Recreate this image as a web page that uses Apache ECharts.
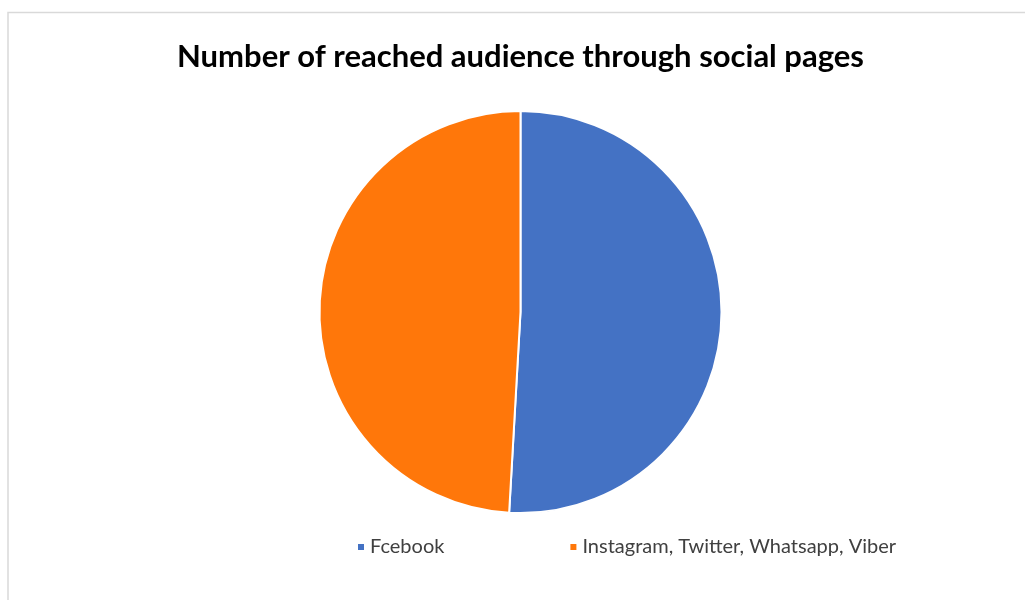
<!DOCTYPE html>
<html>
<head>
<meta charset="utf-8">
<script src="https://cdn.jsdelivr.net/npm/echarts@6/dist/echarts.min.js"></script>
<style>html,body{margin:0;padding:0;background:#fff;}#chart{width:1025px;height:600px;}</style>
</head>
<body>
<div id="chart"></div>
<script>
const titleText = "Number of reached audience through social pages";
const categories = ["Fcebook", "Instagram, Twitter, Whatsapp, Viber"];
const values = [50.9, 49.1];
const colors = ["#4472C4", "#FF770A"];

const chart = echarts.init(document.getElementById('chart'));
chart.setOption({
  animation: false,
  color: colors,
  graphic: [{
    type: 'rect', silent: true,
    shape: { x: 8, y: 12.5, width: 1040, height: 620 },
    style: { fill: 'none', stroke: '#d9d9d9', lineWidth: 1.5 }
  }],
  title: {
    text: titleText, left: 172, top: 36,
    textStyle: { fontFamily: 'Lato', fontWeight: 'bold', fontSize: 31, color: '#000' }
  },
  legend: {
    bottom: 38, left: 351,
    icon: 'rect', itemWidth: 8, itemHeight: 8, itemGap: 124,
    textStyle: { fontFamily: 'Lato', fontSize: 20, color: '#404040' },
    data: categories
  },
  series: [{
    type: 'pie',
    center: [520.5, 312], radius: [0, 201],
    startAngle: 90, clockwise: true,
    label: { show: false }, labelLine: { show: false },
    itemStyle: { borderColor: '#fff', borderWidth: 2 },
    emphasis: { disabled: true },
    data: categories.map((c, i) => ({ name: c, value: values[i] }))
  }]
});
</script>
</body>
</html>
